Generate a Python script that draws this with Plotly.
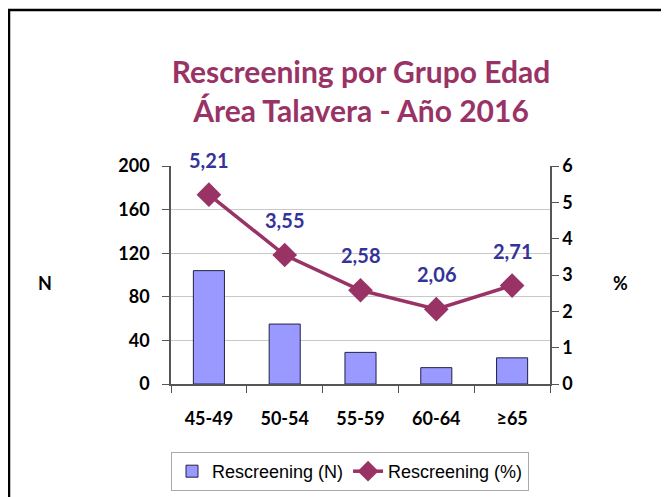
import plotly.graph_objects as go

grupos = ['45-49', '50-54', '55-59', '60-64', '≥65']
rescreening_n = [104, 55, 29, 15, 24]
rescreening_pct = [5.21, 3.55, 2.58, 2.06, 2.71]

W, H = 669, 497
OFF = 8  # margen del body de la página
L, T = 171 - OFF, 166 - OFF
R, B = W - (550 - OFF), H - (384 - OFF)
pw, ph = W - L - R, H - T - B


def px_x(x):
    return (x - OFF - L) / pw


def px_y(y):
    return (H - B - (y - OFF)) / ph


fig = go.Figure()
fig.add_trace(go.Bar(
    x=grupos, y=rescreening_n, name='Rescreening (N)',
    marker=dict(color='#9999FF', line=dict(color='#222244', width=1)),
    width=0.41, yaxis='y'
))
fig.add_trace(go.Scatter(
    x=grupos, y=rescreening_pct, name='Rescreening (%)',
    mode='lines+markers', yaxis='y2',
    line=dict(color='#993366', width=3.5),
    marker=dict(symbol='diamond', size=19, color='#993366'),
    cliponaxis=False
))

# etiquetas de datos
for g, v in zip(grupos, rescreening_pct):
    fig.add_annotation(x=g, y=v, yref='y2', text=f'{v:.2f}'.replace('.', ','),
                       showarrow=False, yshift=35,
                       font=dict(family='Lato', size=20, color='#333399', weight='bold'))

tickfont = dict(family='Lato', size=18, color='black', weight='bold')

# títulos de ejes horizontales
fig.add_annotation(xref='paper', yref='paper', x=px_x(45), y=px_y(283),
                   xanchor='center', yanchor='middle',
                   text='N', showarrow=False, font=tickfont)
fig.add_annotation(xref='paper', yref='paper', x=px_x(620), y=px_y(283),
                   xanchor='center', yanchor='middle',
                   text='%', showarrow=False, font=tickfont)

fig.update_layout(
    width=W, height=H,
    margin=dict(l=L, r=R, t=T, b=B, autoexpand=False),
    paper_bgcolor='white', plot_bgcolor='white',
    title=dict(text='Rescreening por Grupo Edad<br>Área Talavera - Año 2016',
               x=(361 - OFF) / W, xanchor='center', y=1 - (83 - OFF) / H, yanchor='middle',
               font=dict(family='Lato', size=30, color='#993366', weight='bold')),
    xaxis=dict(showline=True, linecolor='#555', linewidth=1.5, ticks='outside',
               tickson='boundaries', ticklen=7, tickcolor='#555', tickfont=tickfont,
               ticklabelstandoff=18),
    yaxis=dict(range=[0, 200], dtick=40, showline=True, linecolor='#555', linewidth=1.5,
               ticks='outside', ticklen=7, tickcolor='#555', showgrid=True,
               gridcolor='#C8C8C8', gridwidth=1, tickfont=tickfont, zeroline=False,
               ticklabelstandoff=9),
    yaxis2=dict(range=[0, 6], dtick=1, overlaying='y', side='right', showline=True,
                linecolor='#555', linewidth=1.5, ticks='outside', ticklen=7, tickcolor='#555',
                showgrid=False, tickfont=tickfont, zeroline=False),
    legend=dict(orientation='h', x=px_x(350), xanchor='center',
                y=px_y(452), yanchor='top', bordercolor='#AAAAAA', borderwidth=1,
                font=dict(family='Liberation Sans', size=18, color='black')),
    showlegend=True,
)

# marco del gráfico
fig.add_shape(type='rect', xref='paper', yref='paper',
              x0=px_x(9), x1=px_x(W + 20),
              y0=px_y(H + 20), y1=px_y(10),
              line=dict(color='black', width=2.5), layer='below')

fig.write_html('out.html')
